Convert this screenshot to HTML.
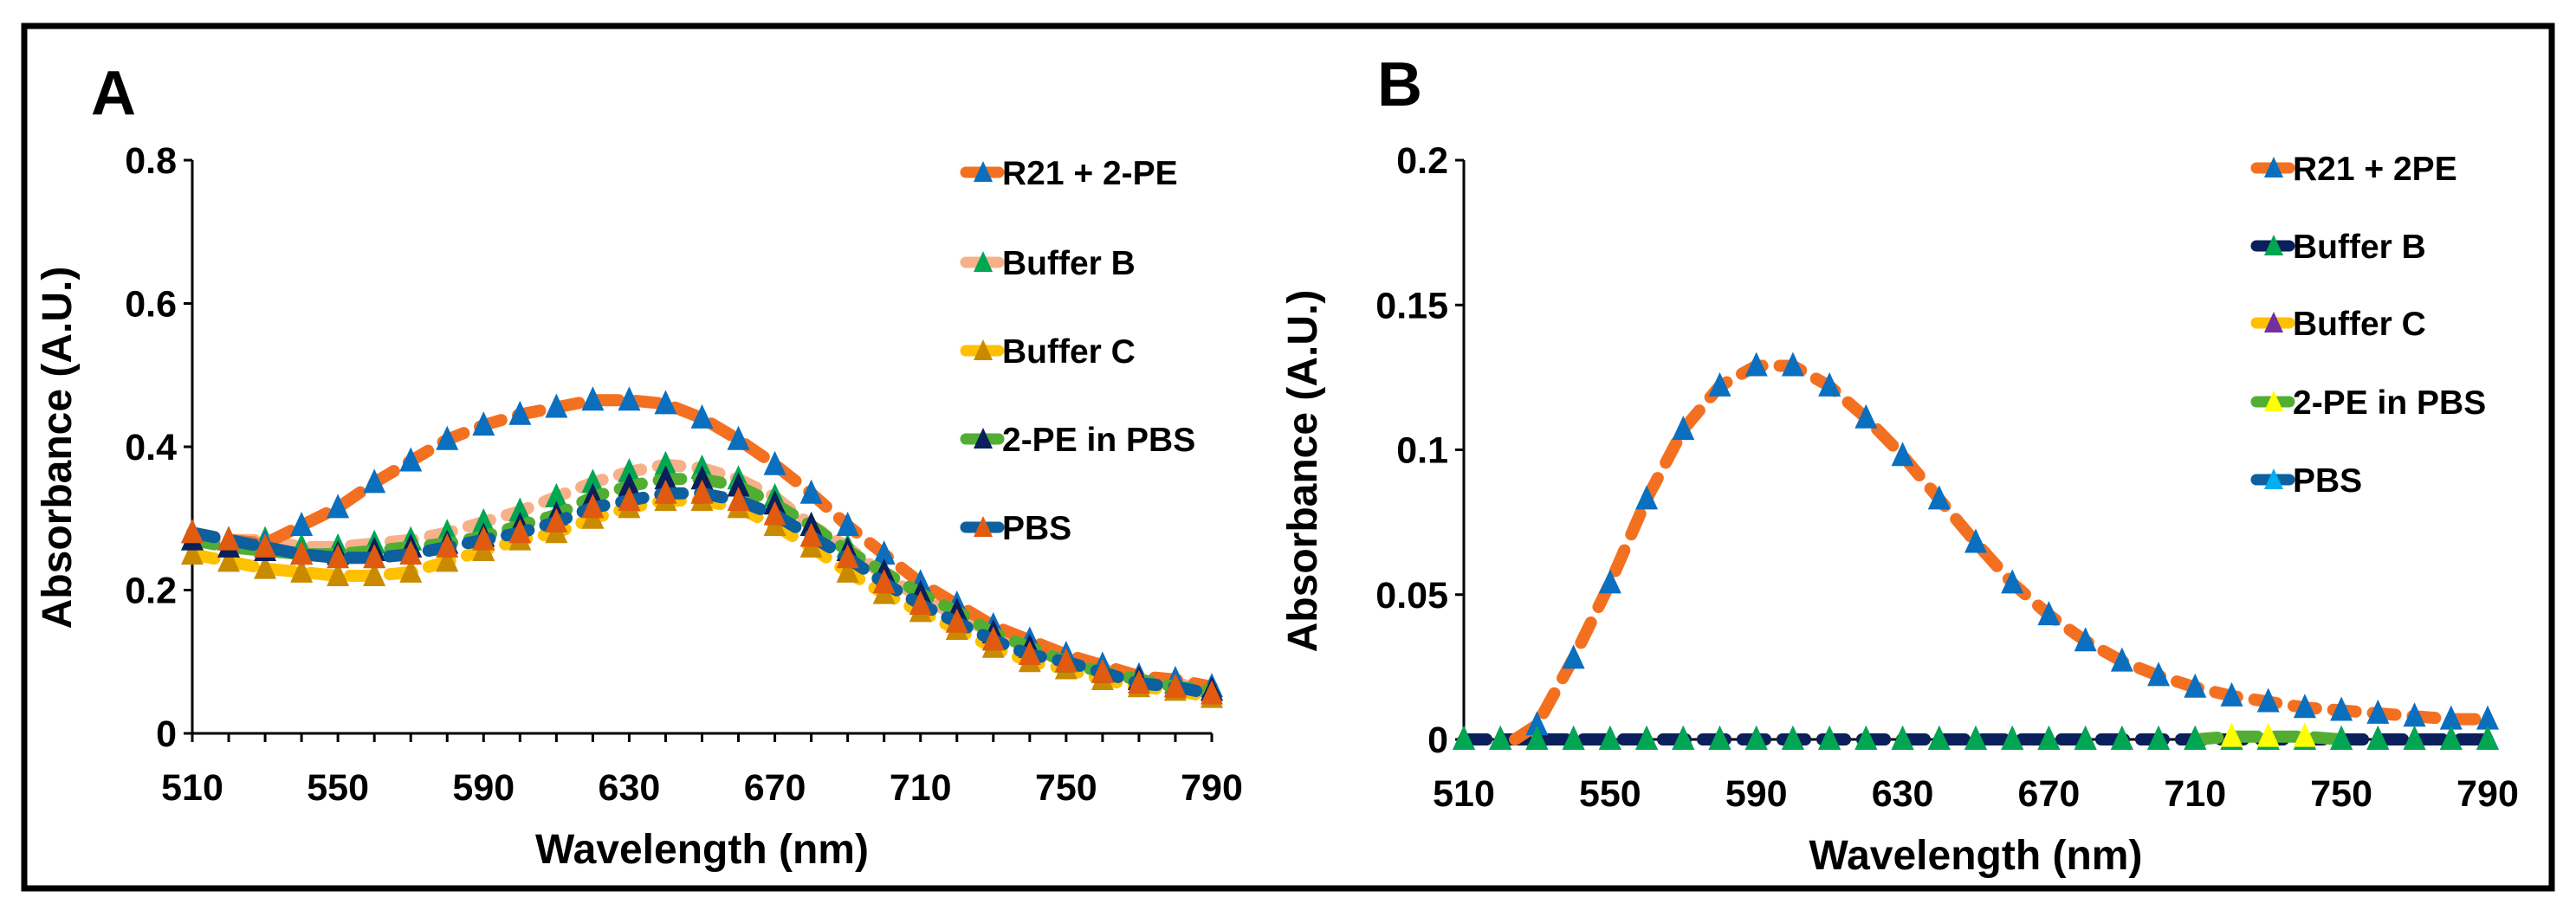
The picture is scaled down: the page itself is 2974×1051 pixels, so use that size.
<!DOCTYPE html>
<html><head><meta charset="utf-8">
<style>
html,body{margin:0;padding:0;background:#fff;}
svg{display:block;}
text{font-family:"Liberation Sans",Arial,sans-serif;font-weight:bold;fill:#000;}
</style></head>
<body>
<svg id="fig" width="2974" height="1051" viewBox="0 0 2974 1051" xmlns="http://www.w3.org/2000/svg">
<rect x="28" y="30" width="2918" height="996" fill="none" stroke="#000" stroke-width="7"/>
<g id="pa"></g>
<g id="pb"></g>
</svg>
<script>
const wavelengths=[510,520,530,540,550,560,570,580,590,600,610,620,630,640,650,660,670,680,690,700,710,720,730,740,750,760,770,780,790];
const aR21=[0.28,0.27,0.265,0.29,0.315,0.35,0.38,0.41,0.43,0.445,0.455,0.465,0.465,0.46,0.44,0.41,0.375,0.335,0.29,0.25,0.21,0.18,0.15,0.13,0.11,0.095,0.08,0.075,0.065];
const aBufB=[0.27,0.27,0.27,0.26,0.26,0.265,0.27,0.28,0.295,0.31,0.33,0.35,0.365,0.375,0.37,0.355,0.33,0.29,0.26,0.22,0.19,0.165,0.14,0.12,0.1,0.09,0.075,0.07,0.06];
const aBufC=[0.25,0.24,0.23,0.225,0.22,0.22,0.225,0.24,0.255,0.27,0.28,0.3,0.315,0.325,0.325,0.315,0.29,0.26,0.225,0.195,0.17,0.145,0.12,0.1,0.09,0.075,0.065,0.06,0.05];
const aPE=[0.27,0.26,0.255,0.25,0.25,0.255,0.26,0.265,0.275,0.29,0.305,0.33,0.345,0.355,0.355,0.345,0.32,0.29,0.255,0.225,0.195,0.17,0.14,0.12,0.1,0.085,0.075,0.065,0.06];
const aPBS=[0.28,0.27,0.26,0.25,0.245,0.245,0.25,0.26,0.27,0.28,0.295,0.315,0.325,0.335,0.335,0.325,0.305,0.275,0.245,0.21,0.18,0.155,0.13,0.11,0.1,0.085,0.07,0.065,0.055];
const bR21=[null,null,0.005,0.028,0.054,0.083,0.107,0.122,0.129,0.129,0.122,0.111,0.098,0.083,0.068,0.054,0.043,0.034,0.027,0.022,0.018,0.015,0.013,0.011,0.010,0.009,0.008,0.007,0.007];
const bBufB=[0,0,0,0,0,0,0,0,0,0,0,0,0,0,0,0,0,0,0,0,0,0,0,0,0,0,0,0,0];
const bBufC=[0,0,0,0,0,0,0,0,0,0,0,0,0,0,0,0,0,0,0,0,0,0,0,0,0,0,0,0,0];
const bPE=[null,null,null,null,null,null,null,null,null,null,null,null,null,null,null,null,null,null,null,null,0,0.001,0.001,0.001,0,null,null,null,null];
const bPBS=[0,0,0,0,0,0,0,0,0,0,0,0,0,0,0,0,0,0,0,0,0,0,0,0,0,0,0,0,0];
const xTicks=[510,550,590,630,670,710,750,790];
const aYTicks=[0,0.2,0.4,0.6,0.8];
const aYLabels=["0","0.2","0.4","0.6","0.8"];
const bYTicks=[0,0.05,0.1,0.15,0.2];
const bYLabels=["0","0.05","0.1","0.15","0.2"];
const aNames=["R21 + 2-PE","Buffer B","Buffer C","2-PE in PBS","PBS"];
const bNames=["R21 + 2PE","Buffer B","Buffer C","2-PE in PBS","PBS"];

const NS="http://www.w3.org/2000/svg";
function mk(tag,attrs,parent){const e=document.createElementNS(NS,tag);for(const k in attrs)e.setAttribute(k,attrs[k]);parent.appendChild(e);return e;}
function tri(x,y,color,parent){
  const e=mk('path',{d:`M${x} ${y-16}L${x+13} ${y+12}L${x-13} ${y+12}Z`,fill:color},parent);
  
  
}
function panel(g,cfg){
  const xs=v=>cfg.x0+(v-510)/(790-510)*(cfg.x1-cfg.x0);
  const ys=v=>cfg.y0-(v/cfg.ymax)*(cfg.y0-cfg.y1);
  let ax=mk('line',{x1:cfg.x0,y1:cfg.y1,x2:cfg.x0,y2:cfg.y0,stroke:'#000','stroke-width':3},g);
  
  ax=mk('line',{x1:cfg.x0,y1:cfg.y0,x2:cfg.x1,y2:cfg.y0,stroke:'#000','stroke-width':3},g);
  
  cfg.yt.forEach((v,i)=>{
    const y=ys(v);
    mk('line',{x1:cfg.x0-10,y1:y,x2:cfg.x0,y2:y,stroke:'#000','stroke-width':3},g);
    const t=mk('text',{x:cfg.x0-18,y:y+15,'text-anchor':'end','font-size':43},g);
    t.textContent=cfg.yl[i];
    
  });
  if(cfg.minor) wavelengths.forEach(v=>{mk('line',{x1:xs(v),y1:cfg.y0,x2:xs(v),y2:cfg.y0+10,stroke:'#000','stroke-width':3},g);});
  xTicks.forEach(v=>{
    const t=mk('text',{x:xs(v),y:cfg.y0+77,'text-anchor':'middle','font-size':43},g);
    t.textContent=v;
    
  });
  let t=mk('text',{x:(cfg.x0+cfg.x1)/2,y:cfg.y0+150,'text-anchor':'middle','font-size':48},g);
  t.textContent='Wavelength (nm)';
  
  t=mk('text',{x:0,y:0,'text-anchor':'middle','font-size':48,transform:`translate(${cfg.ytx},${cfg.yty}) rotate(-90)`},g);
  t.textContent='Absorbance (A.U.)';
  
  t=mk('text',{x:cfg.lx,y:cfg.ly,'font-size':72},g);
  t.textContent=cfg.letter;
  
  cfg.series.forEach(s=>{
    let d='';let pen=false;
    s.data.forEach((v,i)=>{if(v===null){pen=false;return;}d+=(pen?'L':'M')+xs(wavelengths[i]).toFixed(1)+' '+ys(v).toFixed(1);pen=true;});
    if(s.start!==undefined)d='M'+xs(s.start).toFixed(1)+' '+ys(0).toFixed(1)+d.replace(/^M/,'L');
    const p=mk('path',{d:d,fill:'none',stroke:s.line,'stroke-width':14,'stroke-linecap':'round','stroke-linejoin':'round','stroke-dasharray':'26 20'},g);
    
    if(!s.late) s.data.forEach((v,i)=>{if(v===null)return;tri(xs(wavelengths[i]),ys(v),(s.mcol&&s.mcol[i])||s.mark,g);});
  });
  cfg.series.forEach(s=>{
    if(s.late) s.data.forEach((v,i)=>{if(v===null)return;tri(xs(wavelengths[i]),ys(v),(s.mcol&&s.mcol[i])||s.mark,g);});
  });
  cfg.series.forEach(s=>{
    const i=s.leg;const y=cfg.legY[i];
    const lg=mk('g',{},g);
    
    mk('line',{x1:cfg.legX-20,y1:y,x2:cfg.legX+18,y2:y,stroke:s.line,'stroke-width':13,'stroke-linecap':'round'},lg);
    mk('path',{d:`M${cfg.legX} ${y-13}L${cfg.legX+11} ${y+11}L${cfg.legX-11} ${y+11}Z`,fill:s.lmark||s.mark},lg);
    const tt=mk('text',{x:cfg.legX+22,y:y+14,'font-size':39},lg);
    tt.textContent=cfg.names[i];
  });
}
panel(document.getElementById('pa'),{
  x0:222,x1:1399,y0:847,y1:185,ymax:0.8,yt:aYTicks,yl:aYLabels,minor:true,
  ytx:82,yty:517,lx:105,ly:132,letter:'A',legX:1135,legY:[199,303,405,507,609],names:aNames,
  series:[
    {data:aBufB,line:'#f8b08a',mark:'#00a651',leg:1},
    {data:aR21,line:'#f37021',mark:'#0b6fbf',leg:0},
    {data:aBufC,line:'#ffc000',mark:'#c98a00',leg:2},
    {data:aPE,line:'#52ae32',mark:'#0a1f5c',leg:3},
    {data:aPBS,line:'#0d5f9e',mark:'#e05a10',leg:4}
  ]
});
panel(document.getElementById('pb'),{
  x0:1690,x1:2872,y0:854,y1:185,ymax:0.2,yt:bYTicks,yl:bYLabels,minor:false,
  ytx:1520,yty:544,lx:1590,ly:122,letter:'B',legX:2625,legY:[194,284,373,464,554],names:bNames,
  series:[
    {data:bPBS,line:'#0d5f9e',mark:'#00b0f0',leg:4},
    {data:bBufC,line:'#ffc000',mark:'#7030a0',leg:2},
    {data:bBufB,line:'#0a1f5c',mark:'#00a651',leg:1,late:true},
    {data:bPE,line:'#52ae32',mark:'#ffff00',leg:3,late:true,lmark:'#ffff00',mcol:{20:'#00a651',24:'#00a651'}},
    {data:bR21,line:'#f37021',mark:'#0b6fbf',leg:0,start:524}
  ]
});
</script>
</body></html>
